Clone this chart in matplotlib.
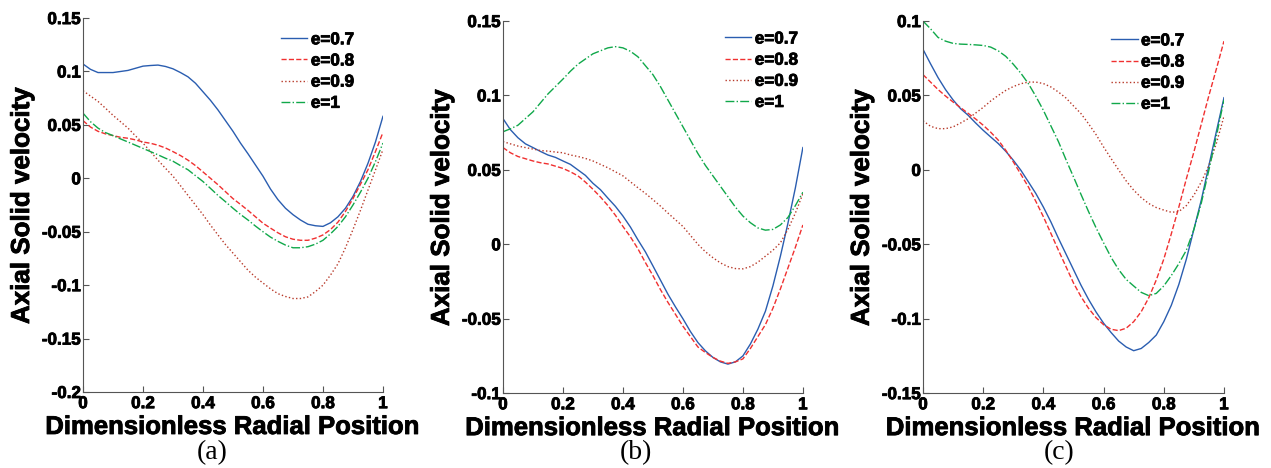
import matplotlib.pyplot as plt
import matplotlib.patheffects as pe

plt.rcParams['font.family'] = ['Liberation Sans', 'DejaVu Sans']
plt.rcParams['font.weight'] = 'bold'

x = [0, 0.025, 0.05, 0.075, 0.1, 0.125, 0.15, 0.175, 0.2, 0.225, 0.25,
     0.275, 0.3, 0.325, 0.35, 0.375, 0.4, 0.425, 0.45, 0.475, 0.5,
     0.525, 0.55, 0.575, 0.6, 0.625, 0.65, 0.675, 0.7, 0.725, 0.75,
     0.775, 0.8, 0.825, 0.85, 0.875, 0.9, 0.925, 0.95, 0.975, 1.0]

labels = ['e=0.7', 'e=0.8', 'e=0.9', 'e=1']

# panel (a)
a_07 = [0.107, 0.102, 0.099, 0.099, 0.099, 0.100, 0.101, 0.103, 0.105, 0.1056,
        0.106, 0.1047, 0.1025, 0.099, 0.095, 0.089, 0.081, 0.073, 0.064, 0.054,
        0.044, 0.033, 0.023, 0.0125, 0.002, -0.010, -0.020, -0.028, -0.034, -0.039,
        -0.043, -0.0444, -0.045, -0.0416, -0.036, -0.028, -0.017, -0.003, 0.014, 0.034, 0.058]
a_08 = [0.054, 0.048, 0.044, 0.0416, 0.040, 0.0384, 0.0375, 0.036, 0.034, 0.0328,
        0.031, 0.0284, 0.025, 0.0213, 0.017, 0.0119, 0.006, 0.000, -0.006, -0.0125,
        -0.019, -0.0244, -0.030, -0.036, -0.042, -0.0466, -0.051, -0.0547, -0.057, -0.058,
        -0.058, -0.056, -0.053, -0.048, -0.041, -0.031, -0.019, -0.0056, 0.008, 0.025, 0.043]
a_09 = [0.082, 0.077, 0.072, 0.0656, 0.059, 0.053, 0.047, 0.0397, 0.033, 0.025,
        0.017, 0.0094, 0.002, -0.0069, -0.016, -0.025, -0.034, -0.0438, -0.053, -0.062,
        -0.070, -0.078, -0.086, -0.0925, -0.098, -0.1034, -0.108, -0.1106, -0.1125, -0.1125,
        -0.111, -0.106, -0.100, -0.0906, -0.080, -0.065, -0.048, -0.030, -0.011, 0.0078, 0.027]
a_10 = [0.061, 0.053, 0.047, 0.0428, 0.040, 0.0369, 0.034, 0.031, 0.028, 0.025,
        0.022, 0.0188, 0.016, 0.0119, 0.008, 0.0025, -0.003, -0.0094, -0.016, -0.0219,
        -0.028, -0.0338, -0.039, -0.0447, -0.050, -0.055, -0.059, -0.0625, -0.065, -0.065,
        -0.064, -0.0616, -0.058, -0.052, -0.045, -0.036, -0.025, -0.013, 0.000, 0.0156, 0.033]

# panel (b)
b_07 = [0.0845, 0.077, 0.0716, 0.0675, 0.065, 0.0624, 0.060, 0.0584, 0.056, 0.0537,
        0.050, 0.0463, 0.041, 0.0367, 0.031, 0.0255, 0.019, 0.0116, 0.003, -0.0051,
        -0.0145, -0.024, -0.0335, -0.042, -0.050, -0.0586, -0.066, -0.0716, -0.076, -0.079,
        -0.0805, -0.079, -0.075, -0.067, -0.057, -0.045, -0.028, -0.008, 0.014, 0.038, 0.065]
b_08 = [0.065, 0.0615, 0.059, 0.0575, 0.056, 0.0548, 0.054, 0.0525, 0.051, 0.0487,
        0.046, 0.0418, 0.037, 0.0318, 0.026, 0.0195, 0.012, 0.005, -0.003, -0.0123,
        -0.021, -0.0304, -0.039, -0.047, -0.055, -0.062, -0.069, -0.0727, -0.076, -0.0785,
        -0.080, -0.079, -0.077, -0.070, -0.062, -0.054, -0.043, -0.030, -0.016, -0.002, 0.013]
b_09 = [0.069, 0.0675, 0.066, 0.065, 0.064, 0.063, 0.0626, 0.062, 0.0615, 0.060,
        0.059, 0.0577, 0.056, 0.0537, 0.0514, 0.0487, 0.046, 0.042, 0.038, 0.0342,
        0.030, 0.0257, 0.021, 0.0165, 0.012, 0.006, 0.000, -0.005, -0.009, -0.0125,
        -0.015, -0.0163, -0.0165, -0.015, -0.012, -0.008, -0.004, 0.001, 0.010, 0.021, 0.034]
b_10 = [0.0756, 0.0776, 0.080, 0.0845, 0.089, 0.095, 0.101, 0.106, 0.111, 0.1163,
        0.121, 0.1245, 0.128, 0.130, 0.132, 0.1328, 0.132, 0.1297, 0.126, 0.120,
        0.114, 0.106, 0.097, 0.088, 0.079, 0.070, 0.061, 0.053, 0.046, 0.039,
        0.032, 0.025, 0.019, 0.0145, 0.011, 0.0095, 0.0100, 0.013, 0.018, 0.026, 0.035]

# panel (c)
c_07 = [0.081, 0.0713, 0.062, 0.0539, 0.047, 0.0411, 0.0367, 0.0315, 0.0266, 0.0221,
        0.0177, 0.0125, 0.0065, -0.0002, -0.008, -0.0159, -0.025, -0.035, -0.046, -0.0565,
        -0.067, -0.0775, -0.087, -0.0955, -0.103, -0.1093, -0.115, -0.119, -0.1215, -0.120,
        -0.116, -0.111, -0.102, -0.091, -0.077, -0.060, -0.040, -0.020, 0.003, 0.026, 0.0485]
c_08 = [0.064, 0.059, 0.054, 0.0496, 0.0456, 0.0418, 0.038, 0.0342, 0.030, 0.0253,
        0.020, 0.0132, 0.0054, -0.0029, -0.0114, -0.0212, -0.0315, -0.0427, -0.054, -0.065,
        -0.076, -0.0852, -0.093, -0.0993, -0.104, -0.1071, -0.108, -0.1064, -0.102, -0.0953,
        -0.086, -0.074, -0.060, -0.043, -0.025, -0.006, 0.012, 0.031, 0.050, 0.068, 0.0865]
c_09 = [0.033, 0.0293, 0.0277, 0.0277, 0.0289, 0.0315, 0.0344, 0.0382, 0.042, 0.0463,
        0.050, 0.0534, 0.056, 0.0579, 0.059, 0.059, 0.058, 0.0557, 0.0523, 0.0483,
        0.043, 0.0378, 0.031, 0.0237, 0.0154, 0.0076, 0.000, -0.0074, -0.0136, -0.0186,
        -0.0226, -0.0253, -0.027, -0.0285, -0.028, -0.024, -0.017, -0.008, 0.003, 0.018, 0.036]
c_10 = [0.100, 0.0948, 0.089, 0.0865, 0.085, 0.0845, 0.0843, 0.084, 0.0836, 0.0825,
        0.080, 0.0763, 0.071, 0.065, 0.058, 0.0494, 0.040, 0.0295, 0.019, 0.0069,
        -0.0047, -0.0165, -0.028, -0.0389, -0.049, -0.0588, -0.067, -0.0736, -0.078, -0.0823,
        -0.0845, -0.083, -0.078, -0.071, -0.063, -0.054, -0.040, -0.022, 0.000, 0.023, 0.047]

panels = [
    ([a_07, a_08, a_09, a_10], (-0.2, 0.15), [-0.2, -0.15, -0.1, -0.05, 0, 0.05, 0.1, 0.15],
     ['-0.2', '-0.15', '-0.1', '-0.05', '0', '0.05', '0.1', '0.15'], '(a)'),
    ([b_07, b_08, b_09, b_10], (-0.1, 0.15), [-0.1, -0.05, 0, 0.05, 0.1, 0.15],
     ['-0.1', '-0.05', '0', '0.05', '0.1', '0.15'], '(b)'),
    ([c_07, c_08, c_09, c_10], (-0.15, 0.1), [-0.15, -0.1, -0.05, 0, 0.05, 0.1],
     ['-0.15', '-0.1', '-0.05', '0', '0.05', '0.1'], '(c)'),
]

colors = ['#2a5db0', '#f03030', '#b83a2a', '#10a84a']
styles = ['-', '--', ':', '-.']
xticks = [0, 0.2, 0.4, 0.6, 0.8, 1]
xticklabels = ['0', '0.2', '0.4', '0.6', '0.8', '1']

rects = [[0.0653, 0.1624, 0.236, 0.799],
         [0.3957, 0.160, 0.236, 0.795],
         [0.7262, 0.160, 0.2368, 0.795]]
leg_pos = [(0.66, 0.962), (0.74, 0.972), (0.625, 0.967)]

# heavier look for the bold labels
heavy = [pe.withStroke(linewidth=0.6, foreground='black')]

fig = plt.figure(figsize=(12.71, 4.68), dpi=100)

for i, (series, ylim, yticks, yticklabels, tag) in enumerate(panels):
    ax = fig.add_axes(rects[i])
    for s, c, ls, lab in zip(series, colors, styles, labels):
        ax.plot(x, s, color=c, linestyle=ls, linewidth=1.0, label=lab)
    ax.set_xlim(0, 1)
    ax.set_ylim(*ylim)
    ax.set_xticks(xticks)
    ax.set_xticklabels(xticklabels)
    ax.set_yticks(yticks)
    ax.set_yticklabels(yticklabels)
    ax.tick_params(direction='in', length=4, width=0.8, color='#555555',
                   labelsize=12.3)
    ax.tick_params(axis='x', pad=3)
    ax.tick_params(axis='y', pad=1.5)
    for lbl in ax.get_xticklabels() + ax.get_yticklabels():
        lbl.set_fontweight('bold')
        lbl.set_path_effects(heavy)
    for side in ['top', 'right']:
        ax.spines[side].set_visible(False)
    for side in ['left', 'bottom']:
        ax.spines[side].set_color('#555555')
        ax.spines[side].set_linewidth(0.8)
    h = rects[i][3] * 468
    ax.set_xlabel('Dimensionless Radial Position', fontsize=18.5, fontweight='bold',
                  path_effects=heavy)
    ax.xaxis.set_label_coords(0.5, -23 / h)
    ax.set_ylabel('Axial Solid velocity', fontsize=18.7, fontweight='bold',
                  path_effects=heavy)
    ax.yaxis.set_label_coords(-49 / 300, 0.5)
    leg = ax.legend(loc='upper left', bbox_to_anchor=leg_pos[i], frameon=False,
                    handlelength=1.55, handletextpad=0.2, labelspacing=0.36,
                    borderpad=0, borderaxespad=0, prop={'weight': 'bold', 'size': 12.3})
    for t in leg.get_texts():
        t.set_path_effects(heavy)
    fig.text((i + 0.5) / 3, 1 - 453 / 468, tag, ha='center', va='center',
             fontsize=20, family='Liberation Serif', fontweight='normal')

fig.savefig('out.png', dpi=100)
